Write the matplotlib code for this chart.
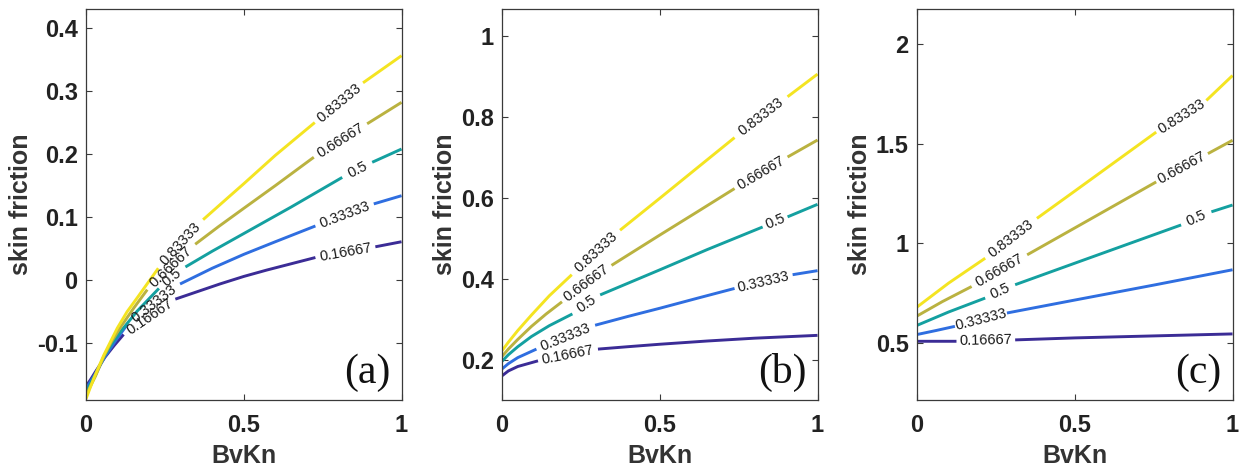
import numpy as np
import matplotlib
matplotlib.use('Agg')
import matplotlib.pyplot as plt

nan = np.nan

# contour levels (one curve per level), lowest first
levels = ['0.16667', '0.33333', '0.5', '0.66667', '0.83333']
colors = ['#3b2c96', '#2f6ee0', '#14a0a0', '#bab240', '#f4e421']

# panel (a): BvKn vs skin friction, nan = gap where the level label sits
a_x = [
    [0, 0.015, 0.03, 0.06, 0.09, 0.119, nan, 0.283, 0.424, 0.5, 0.572, 0.727, nan, 0.917, 1.0],
    [0, 0.015, 0.03, 0.06, 0.095, 0.131, nan, 0.298, 0.4, 0.5, 0.6, 0.727, nan, 0.912, 1.0],
    [0, 0.015, 0.03, 0.057, 0.085, 0.115, 0.162, 0.231, nan, 0.315, 0.4, 0.5, 0.65, 0.812, nan, 0.907, 1.0],
    [0, 0.015, 0.03, 0.057, 0.08, 0.11, 0.15, 0.194, nan, 0.346, 0.42, 0.5, 0.6, 0.722, nan, 0.891, 1.0],
    [0, 0.012, 0.025, 0.057, 0.099, 0.13, 0.162, 0.229, nan, 0.371, 0.45, 0.5, 0.6, 0.725, nan, 0.878, 1.0],
]
a_y = [
    [-0.168, -0.157, -0.145, -0.122, -0.103, -0.086, nan, -0.030, -0.006, 0.006, 0.016, 0.036, nan, 0.053, 0.061],
    [-0.172, -0.160, -0.148, -0.121, -0.095, -0.070, nan, -0.006, 0.019, 0.041, 0.061, 0.086, nan, 0.121, 0.134],
    [-0.178, -0.163, -0.150, -0.121, -0.098, -0.078, -0.049, -0.013, nan, 0.021, 0.046, 0.074, 0.116, 0.163, nan, 0.187, 0.208],
    [-0.183, -0.167, -0.152, -0.120, -0.098, -0.074, -0.045, -0.015, nan, 0.057, 0.085, 0.114, 0.150, 0.195, nan, 0.248, 0.282],
    [-0.188, -0.172, -0.155, -0.118, -0.076, -0.050, -0.028, 0.019, nan, 0.096, 0.131, 0.153, 0.198, 0.250, nan, 0.313, 0.356],
]

# panel (b)
b_x = [
    [0, 0.02, 0.05, 0.114, nan, 0.304, 0.4, 0.5, 0.65, 0.8, 1.0],
    [0, 0.02, 0.05, 0.109, nan, 0.295, 0.4, 0.5, 0.62, 0.737, nan, 0.921, 1.0],
    [0, 0.02, 0.05, 0.093, 0.15, 0.223, nan, 0.311, 0.5, 0.65, 0.826, nan, 0.905, 1.0],
    [0, 0.02, 0.05, 0.093, 0.14, 0.19, nan, 0.347, 0.5, 0.62, 0.737, nan, 0.905, 1.0],
    [0, 0.02, 0.05, 0.093, 0.15, 0.221, nan, 0.374, 0.5, 0.62, 0.737, nan, 0.905, 1.0],
]
b_y = [
    [0.160, 0.172, 0.183, 0.197, nan, 0.226, 0.232, 0.238, 0.246, 0.253, 0.260],
    [0.177, 0.190, 0.205, 0.226, nan, 0.285, 0.307, 0.327, 0.352, 0.376, nan, 0.410, 0.420],
    [0.196, 0.212, 0.232, 0.257, 0.284, 0.313, nan, 0.360, 0.422, 0.472, 0.528, nan, 0.553, 0.584],
    [0.208, 0.226, 0.250, 0.282, 0.313, 0.343, nan, 0.433, 0.508, 0.566, 0.623, nan, 0.701, 0.743],
    [0.222, 0.243, 0.272, 0.310, 0.358, 0.410, nan, 0.520, 0.599, 0.675, 0.749, nan, 0.850, 0.906],
]

# panel (c)
c_x = [
    [0, 0.125, nan, 0.311, 0.5, 0.75, 1.0],
    [0, 0.06, 0.12, nan, 0.285, 0.5, 0.75, 1.0],
    [0, 0.1, 0.216, nan, 0.311, 0.5, 0.837, nan, 0.933, 1.0],
    [0, 0.08, 0.173, nan, 0.349, 0.5, 0.758, nan, 0.922, 1.0],
    [0, 0.1, 0.216, nan, 0.38, 0.5, 0.758, nan, 0.917, 1.0],
]
c_y = [
    [0.508, 0.508, nan, 0.515, 0.525, 0.535, 0.545],
    [0.542, 0.562, 0.583, nan, 0.650, 0.715, 0.790, 0.867],
    [0.588, 0.655, 0.725, nan, 0.792, 0.900, 1.092, nan, 1.158, 1.192],
    [0.635, 0.707, 0.783, nan, 0.942, 1.077, 1.308, nan, 1.450, 1.517],
    [0.680, 0.800, 0.925, nan, 1.125, 1.262, 1.558, nan, 1.717, 1.842],
]

panels = [
    ('(a)', a_x, a_y, (-0.19, 0.43), [-0.1, 0, 0.1, 0.2, 0.3, 0.4], ['-0.1', '0', '0.1', '0.2', '0.3', '0.4']),
    ('(b)', b_x, b_y, (0.1, 1.067), [0.2, 0.4, 0.6, 0.8, 1.0], ['0.2', '0.4', '0.6', '0.8', '1']),
    ('(c)', c_x, c_y, (0.213, 2.176), [0.5, 1.0, 1.5, 2.0], ['0.5', '1', '1.5', '2']),
]
lefts = [0.069, 0.4026, 0.7354]

fig = plt.figure(figsize=(12.47, 4.74), dpi=100)
spine_col = '#3a3a3a'

for (tag, xs, ys, ylim, yt, ytl), left in zip(panels, lefts):
    ax = fig.add_axes([left, 0.156, 0.253, 0.825])
    ax.set_xlim(0, 1)
    ax.set_ylim(*ylim)
    for lev, col, x, y in zip(levels, colors, xs, ys):
        x = np.array(x, dtype=float)
        y = np.array(y, dtype=float)
        ax.plot(x, y, color=col, lw=2.1, solid_capstyle='butt', solid_joinstyle='round')
        # label goes in every gap of the line
        for i in np.where(np.isnan(x))[0]:
            x0, y0, x1, y1 = x[i - 1], y[i - 1], x[i + 1], y[i + 1]
            ang = np.degrees(np.arctan2(y1 - y0, x1 - x0))
            ax.text((x0 + x1) / 2, (y0 + y1) / 2, lev, rotation=ang,
                    transform_rotates_text=True, rotation_mode='anchor',
                    ha='center', va='center', fontsize=10.5,
                    family='Liberation Sans', color='#1a1a1a')
    ax.set_xticks([0, 0.5, 1])
    ax.set_xticklabels(['0', '0.5', '1'])
    ax.set_yticks(yt)
    ax.set_yticklabels(ytl)
    ax.tick_params(direction='in', top=True, right=True, length=4,
                   width=0.8, color=spine_col, labelsize=17)
    ax.tick_params(axis='x', pad=10)
    ax.tick_params(axis='y', pad=6)
    for lab in ax.get_xticklabels() + ax.get_yticklabels():
        lab.set_fontweight('bold')
        lab.set_family('Liberation Sans')
        lab.set_color('#222222')
    for sp in ax.spines.values():
        sp.set_color(spine_col)
        sp.set_linewidth(0.9)
    ax.set_xlabel('BvKn', fontsize=18, fontweight='bold', family='Liberation Sans',
                  color='#333333', labelpad=5)
    ax.set_ylabel('skin friction', fontsize=18, fontweight='bold', family='Liberation Sans',
                  color='#333333', labelpad=3)
    ax.text(0.89, 0.07, tag, transform=ax.transAxes, ha='center', va='center',
            fontsize=30, family='Liberation Serif', color='#111111')

fig.savefig('out.png', dpi=100)
